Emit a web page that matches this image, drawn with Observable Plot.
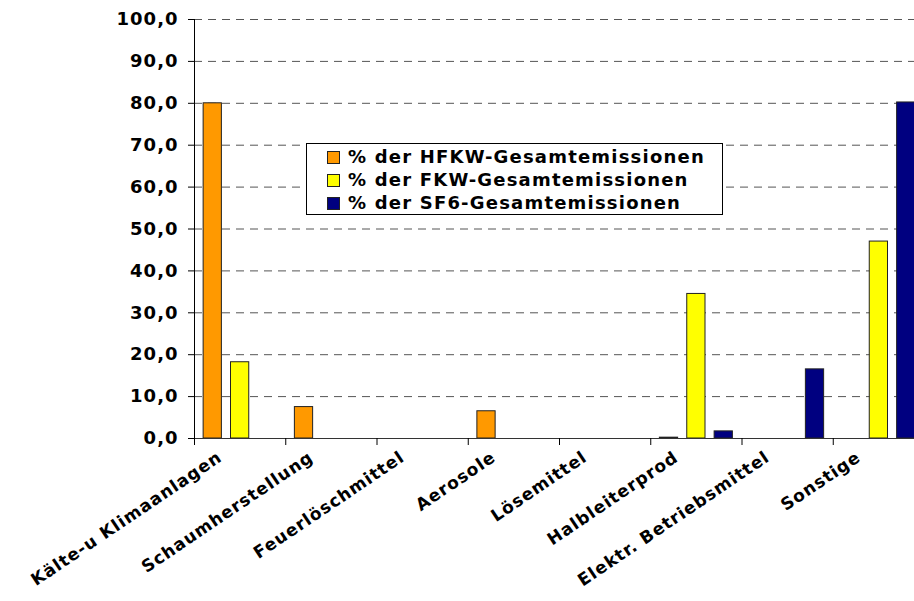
<!DOCTYPE html>
<html><head><meta charset="utf-8">
<script src="https://cdn.jsdelivr.net/npm/d3@7"></script>
<script src="https://cdn.jsdelivr.net/npm/@observablehq/plot@0.6"></script>
<style>
html,body{margin:0;padding:0;background:#fff;overflow:hidden;width:914px;height:601px}
#chart{position:relative;width:914px;height:601px;overflow:hidden}
.legend{position:absolute;left:306px;top:143px;width:415px;height:70px;border:1px solid #000;background:#fff;font-family:"DejaVu Sans",sans-serif;font-weight:bold;font-size:18px;letter-spacing:1.2px;color:#000}
.legend .row{position:absolute;left:20px;height:23px;line-height:23px;white-space:nowrap}
.legend .sw{display:inline-block;width:11px;height:11px;border:1px solid #222;margin-right:8px;vertical-align:-1px}
</style></head>
<body><div id="chart"></div>
<script>
const categories = ["Kälte-u Klimaanlagen", "Schaumherstellung", "Feuerlöschmittel", "Aerosole", "Lösemittel", "Halbleiterprod", "Elektr. Betriebsmittel", "Sonstige"];
const seriesNames = ["% der HFKW-Gesamtemissionen", "% der FKW-Gesamtemissionen", "% der SF6-Gesamtemissionen"];
const hfkw = [80.0, 7.5, 0, 6.5, 0, 0.2, 0, 0];
const fkw  = [18.2, 0, 0, 0, 0, 34.5, 0, 47.0];
const sf6  = [0, 0, 0, 0, 0, 1.7, 16.5, 80.2];
const seriesColors = ["#FF9900", "#FFFF00", "#000080"];
const yTicks = [0, 10, 20, 30, 40, 50, 60, 70, 80, 90, 100];

const seriesValues = [hfkw, fkw, sf6];
const rows = [];
seriesValues.forEach((vals, s) => vals.forEach((v, i) => {
  if (v > 0) rows.push({category: categories[i], catIndex: i, series: seriesNames[s], seriesIndex: s, value: v});
}));

// grouped layout inside each category band (fractions of the band)
const groupPad = 0.1, barW = 0.2, barStep = 0.3;
const fmt = d => d.toFixed(1).replace(".", ",");

const plot = Plot.plot({
  width: 914, height: 601,
  marginLeft: 194, marginRight: -10, marginTop: 19, marginBottom: 163,
  style: "font-family: 'DejaVu Sans', sans-serif; font-weight: bold; font-size: 18px; letter-spacing: 1px; overflow: hidden; background: #fff; color: #000;",
  x: {domain: [0, categories.length], label: null},
  y: {domain: [0, 100], label: null},
  color: {domain: seriesNames, range: seriesColors},
  marks: [
    Plot.gridY(yTicks, {stroke: "#555", strokeOpacity: 1, strokeDasharray: "8,6"}),
    Plot.rectY(rows, {
      x1: d => d.catIndex + groupPad + barStep * d.seriesIndex,
      x2: d => d.catIndex + groupPad + barStep * d.seriesIndex + barW,
      y: "value", fill: "series", stroke: "#222", strokeWidth: 1
    }),
    Plot.ruleX([0], {stroke: "#000"}),
    Plot.ruleY([0], {stroke: "#333"}),
    Plot.axisY(yTicks, {tickSize: 6, tickPadding: 10, tickFormat: fmt, color: "#000", label: null}),
    Plot.axisX(d3.range(categories.length + 1), {tickSize: 7, tickFormat: () => "", color: "#000", label: null}),
    Plot.axisX(d3.range(categories.length).map(i => i + 0.5), {
      tickSize: 0, tickPadding: 17, dx: -20, tickRotate: -34, fontSize: 17,
      tickFormat: d => categories[Math.floor(d)], color: "#000", label: null
    })
  ]
});
const chart = document.getElementById("chart");
chart.appendChild(plot);

const legend = document.createElement("div");
legend.className = "legend";
seriesNames.forEach((name, s) => {
  const row = document.createElement("div");
  row.className = "row";
  row.style.top = (1 + s * 23) + "px";
  const sw = document.createElement("span");
  sw.className = "sw";
  sw.style.background = seriesColors[s];
  row.appendChild(sw);
  row.appendChild(document.createTextNode(name));
  legend.appendChild(row);
});
chart.appendChild(legend);
</script>
</body></html>
